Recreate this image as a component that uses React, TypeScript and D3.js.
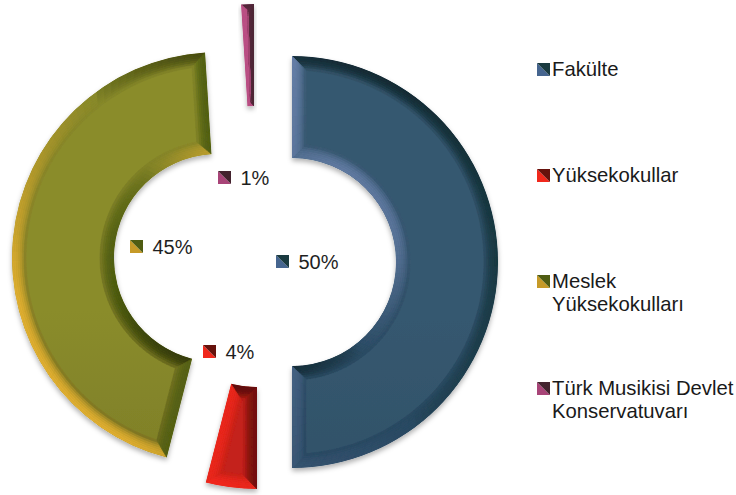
import React from "react";
import * as d3 from "d3";

const categories = ["Fakülte", "Yüksekokullar", "Meslek Yüksekokulları", "Türk Musikisi Devlet Konservatuvarı"];
const legendLines = [["Fakülte"], ["Yüksekokullar"], ["Meslek", "Yüksekokulları"], ["Türk Musikisi Devlet", "Konservatuvarı"]];
const values = [50, 4, 45, 1];
const percentLabels = ["50%", "4%", "45%", "1%"];

// style and layout
const baseTop = ["#36586f", "#c4201a", "#8a8c2c", "#b04a7c"];
const baseBottom = ["#284760", "#c4201a", "#6c6a1f", "#b04a7c"];
const bright = ["#6c83ae", "#fb2a1c", "#e0ae30", "#bb4f85"];
const dark = ["#18363e", "#6a100c", "#4c5c10", "#43232e"];
const darkUp = ["#10242c", "#4a0c08", "#2c3206", "#331a22"];
const brightFade = [0.3, 1, 1, 1];
const swatchLight = ["#46658f", "#f0281c", "#c69a28", "#a84478"];
const swatchDark = ["#1a3a40", "#66120c", "#4f5c12", "#43232e"];
const centers: [number, number][] = [[292, 262], [257, 283], [218, 258], [254, 210]];
const labelAnchors: [number, number][] = [[276, 255], [203, 345], [130, 240], [218, 171]];
const legendY = [63, 169, 275, 382];
const OUTER = 206;
const INNER = 104;
const BEVEL = 14;
const LEVELS = 7;
const LIGHT: [number, number] = [-0.8, 0.6];

const pie = d3.pie<number>().sort(null).value((d) => d);
const arcs = pie(values);
const arcPath = d3.arc<d3.PieArcDatum<number>>().innerRadius(INNER).outerRadius(OUTER);
const poly = d3.line();

type Cell = { d: string; fill: string };

function bevelCells(i: number): Cell[] {
  const a0 = arcs[i].startAngle;
  const a1 = arcs[i].endAngle;
  const mid = (a0 + a1) / 2;
  const [cx, cy] = centers[i];
  const yMin = cy - OUTER;
  const yMax = cy + OUTER;
  const pt = (t: number, r: number): [number, number] => [cx + r * Math.sin(t), cy - r * Math.cos(t)];
  const baseAt = (y: number) => d3.interpolateRgb(baseTop[i], baseBottom[i])((y - yMin) / (yMax - yMin));
  const colorOf = (n: [number, number], u: number, y: number) => {
    const v = n[0] * LIGHT[0] + n[1] * LIGHT[1];
    const base = baseAt(y);
    const frac = (y - yMin) / (yMax - yMin);
    const gain = 1 - (1 - brightFade[i]) * frac;
    const shade = d3.interpolateRgb(dark[i], darkUp[i])(Math.pow(Math.max(0, -n[1]), 2));
    const lit = v >= 0
      ? d3.interpolateRgb(base, bright[i])(Math.min(1, v * 1.1) * gain)
      : d3.interpolateRgb(base, shade)(Math.pow(-v, 0.5));
    const w = 1 - Math.pow(u, 2.4);
    return d3.interpolateRgb(base, lit)(w);
  };
  const cells: Cell[] = [];
  const push = (p: [number, number][], n: [number, number], u: number) => {
    const y = d3.mean(p, (q) => q[1]) as number;
    cells.push({ d: poly(p) + "Z", fill: colorOf(n, u, y) });
  };
  const lo = (s: number, r: number) => Math.min(a0 + s / r, mid);
  const hi = (s: number, r: number) => Math.max(a1 - s / r, mid);
  const step = BEVEL / LEVELS;
  const angSteps = Math.max(2, Math.ceil(((a1 - a0) * 180) / Math.PI / 2.5));

  for (let l = 0; l < LEVELS; l++) {
    const s1 = l * step;
    const s2 = (l + 1) * step;
    const u = (l + 0.5) / LEVELS;
    // outer and inner curved faces
    for (const kind of [1, -1]) {
      const r1 = kind > 0 ? OUTER - s1 : INNER + s1;
      const r2 = kind > 0 ? OUTER - s2 : INNER + s2;
      const l1 = lo(s1, r1), h1 = hi(s1, r1), l2 = lo(s2, r2), h2 = hi(s2, r2);
      for (let k = 0; k < angSteps; k++) {
        const f0 = k / angSteps, f1 = (k + 1) / angSteps;
        const tm = l1 + (h1 - l1) * (f0 + f1) / 2;
        const n: [number, number] = [kind * Math.sin(tm), -kind * Math.cos(tm)];
        push([
          pt(l1 + (h1 - l1) * f0, r1), pt(l1 + (h1 - l1) * f1, r1),
          pt(l2 + (h2 - l2) * f1, r2), pt(l2 + (h2 - l2) * f0, r2),
        ], n, u);
      }
    }
    // straight side faces
    for (const side of [0, 1]) {
      const ang = side === 0 ? a0 : a1;
      const sign = side === 0 ? -1 : 1;
      const n: [number, number] = [sign * Math.cos(ang), sign * Math.sin(ang)];
      const at = (s: number, r: number) => (side === 0 ? lo(s, r) : hi(s, r));
      const K = 10;
      for (let k = 0; k < K; k++) {
        const f0 = k / K, f1 = (k + 1) / K;
        const rr = (s: number, f: number) => (INNER + s) + (OUTER - INNER - 2 * s) * f;
        push([
          pt(at(s1, rr(s1, f0)), rr(s1, f0)), pt(at(s1, rr(s1, f1)), rr(s1, f1)),
          pt(at(s2, rr(s2, f1)), rr(s2, f1)), pt(at(s2, rr(s2, f0)), rr(s2, f0)),
        ], n, u);
      }
    }
  }
  return cells;
}

function Swatch({ x, y, i }: { x: number; y: number; i: number }) {
  const s = 13;
  return (
    <g>
      <polygon points={`${x},${y} ${x},${y + s} ${x + s},${y + s}`} fill={swatchLight[i]} />
      <polygon points={`${x},${y} ${x + s},${y} ${x + s},${y + s}`} fill={swatchDark[i]} />
    </g>
  );
}

const FONT = "'Liberation Sans', Arial, sans-serif";

export default function App() {
  return (
    <svg width={736} height={495} viewBox="0 0 736 495" style={{ position: "absolute", left: 0, top: 0, background: "#fff" }}>
      <defs>
        <filter id="shadow" x="-20%" y="-20%" width="140%" height="140%">
          <feDropShadow dx="0" dy="3" stdDeviation="2.5" floodColor="#000" floodOpacity="0.3" />
        </filter>
        <filter id="soft" x="-5%" y="-5%" width="110%" height="110%">
          <feGaussianBlur stdDeviation="0.7" />
        </filter>
        {arcs.map((a, i) => (
          <React.Fragment key={i}>
            <clipPath id={`clip${i}`}>
              <path d={arcPath(a) as string} transform={`translate(${centers[i][0]},${centers[i][1]})`} />
            </clipPath>
            <linearGradient id={`base${i}`} gradientUnits="userSpaceOnUse" x1="0" x2="0" y1={centers[i][1] - OUTER} y2={centers[i][1] + OUTER}>
              <stop offset="0" stopColor={baseTop[i]} />
              <stop offset="1" stopColor={baseBottom[i]} />
            </linearGradient>
          </React.Fragment>
        ))}
      </defs>
      {arcs.map((a, i) => (
        <g key={i} filter="url(#shadow)">
          <g clipPath={`url(#clip${i})`}>
            <path d={arcPath(a) as string} transform={`translate(${centers[i][0]},${centers[i][1]})`} fill={`url(#base${i})`} />
            <g filter="url(#soft)">
              {bevelCells(i).map((c, k) => (
                <path key={k} d={c.d} fill={c.fill} stroke={c.fill} strokeWidth={0.6} />
              ))}
            </g>
          </g>
        </g>
      ))}
      {percentLabels.map((t, i) => (
        <g key={t}>
          <Swatch x={labelAnchors[i][0]} y={labelAnchors[i][1]} i={i} />
          <text x={labelAnchors[i][0] + 22.5} y={labelAnchors[i][1] + 14} fontFamily={FONT} fontSize={20} fill="#1f1f1f">{t}</text>
        </g>
      ))}
      {categories.map((c, i) => (
        <g key={c}>
          <Swatch x={537} y={legendY[i]} i={i} />
          {legendLines[i].map((line, j) => (
            <text key={line} x={552} y={legendY[i] + 13 + j * 23} fontFamily={FONT} fontSize={20.3} fill="#1a1a1a">{line}</text>
          ))}
        </g>
      ))}
    </svg>
  );
}
